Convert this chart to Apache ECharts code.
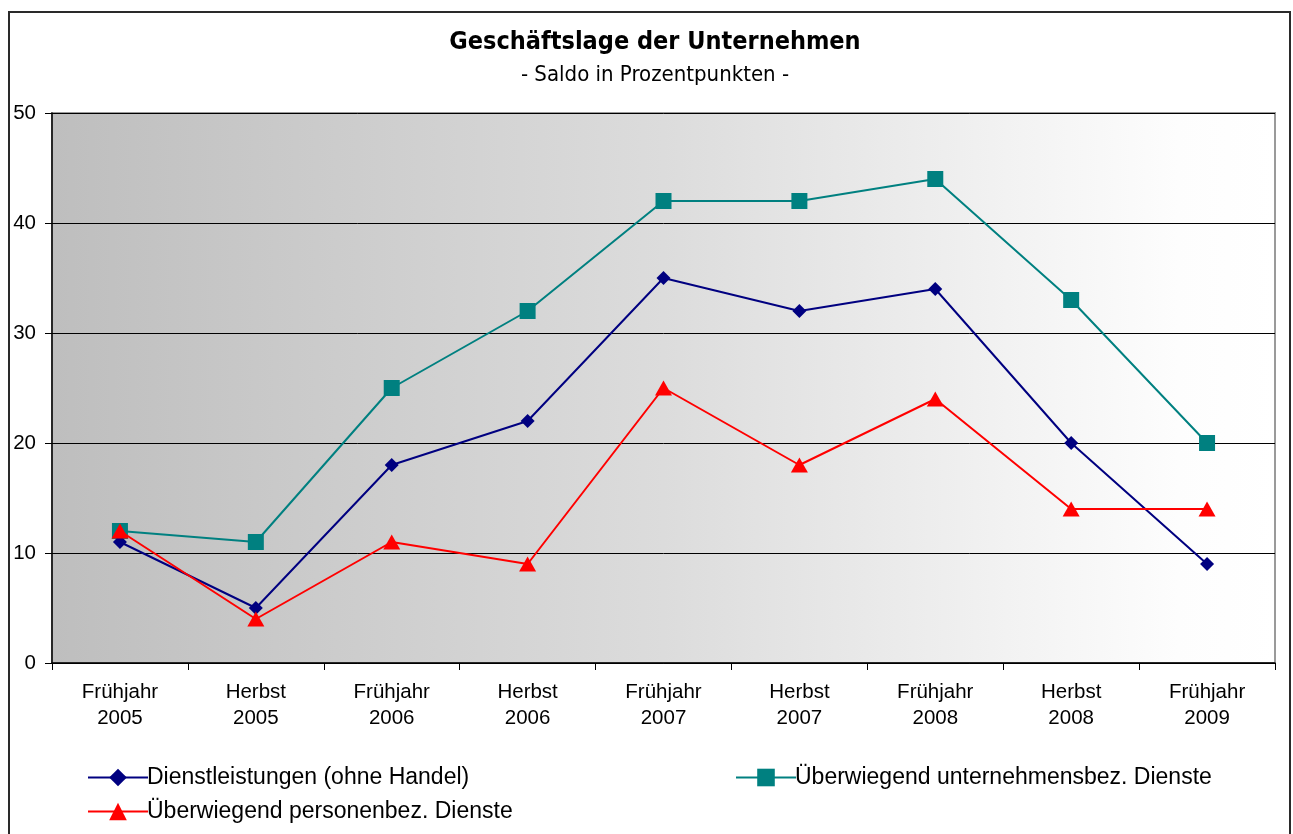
<!DOCTYPE html>
<html><head><meta charset="utf-8">
<script src="https://cdn.jsdelivr.net/npm/echarts@6/dist/echarts.min.js"></script>
<style>html,body{margin:0;padding:0;background:#fff}#c{width:1293px;height:834px}</style>
</head><body><div id="c"></div>
<script>
const categories = ['Frühjahr\n2005','Herbst\n2005','Frühjahr\n2006','Herbst\n2006','Frühjahr\n2007','Herbst\n2007','Frühjahr\n2008','Herbst\n2008','Frühjahr\n2009'];
const dienstleistungen = [11, 5, 18, 22, 35, 32, 34, 20, 9];
const unternehmensbez = [12, 11, 25, 32, 42, 42, 44, 33, 20];
const personenbez = [12, 4, 11, 9, 25, 18, 24, 14, 14];
const yTicks = [0, 10, 20, 30, 40, 50];
const seriesNames = ['Dienstleistungen (ohne Handel)', 'Überwiegend unternehmensbez. Dienste', 'Überwiegend personenbez. Dienste'];

const chart = echarts.init(document.getElementById('c'));
const F = 'Liberation Sans, Arial, sans-serif';
const legendBase = {
  orient: 'horizontal', itemWidth: 60, itemHeight: 22,
  textStyle: {fontFamily: F, fontSize: 23, color: '#000', padding: [0,0,0,-6]}
};
chart.setOption({
  animation: false,
  title: {
    text: 'Geschäftslage der Unternehmen',
    subtext: '- Saldo in Prozentpunkten -',
    left: 650, textAlign: 'center', top: 25, itemGap: 9,
    textStyle: {fontFamily: 'DejaVu Sans Condensed, DejaVu Sans', fontWeight: 'bold', fontSize: 25, color: '#000'},
    subtextStyle: {fontFamily: 'DejaVu Sans Condensed, DejaVu Sans', fontSize: 22, color: '#000'}
  },
  graphic: [{
    type: 'rect', shape: {x: 9, y: 12, width: 1281, height: 840},
    style: {fill: 'none', stroke: '#2a2a2a', lineWidth: 2}, silent: true
  }],
  legend: [
    Object.assign({}, legendBase, {data: [seriesNames[0]], left: 82, top: 761}),
    Object.assign({}, legendBase, {data: [seriesNames[2]], left: 82, top: 795}),
    Object.assign({}, legendBase, {data: [seriesNames[1]], left: 730, top: 761})
  ],
  grid: {
    left: 52, right: 18, top: 113, bottom: 171,
    show: true, borderColor: '#9a9a9a', borderWidth: 2,
    backgroundColor: new echarts.graphic.LinearGradient(0, 0, 1, 0, [
      {offset: 0, color: '#bebebe'}, {offset: 0.5, color: '#dcdcdc'}, {offset: 0.92, color: '#fdfdfd'}, {offset: 1, color: '#ffffff'}
    ])
  },
  xAxis: {
    type: 'category', data: categories, boundaryGap: true,
    axisLine: {lineStyle: {color: '#000', width: 1.5}},
    axisTick: {show: true, length: 7, lineStyle: {color: '#000'}},
    axisLabel: {fontFamily: F, fontSize: 20.5, color: '#000', lineHeight: 26, margin: 16}
  },
  yAxis: {
    type: 'value', min: 0, max: 50, interval: 10,
    axisLine: {show: true, lineStyle: {color: '#000', width: 1.5}},
    axisTick: {show: true, length: 7, lineStyle: {color: '#000'}},
    axisLabel: {fontFamily: F, fontSize: 20.5, color: '#000', margin: 16,
      formatter: v => yTicks.includes(v) ? String(v) : ''},
    splitLine: {show: true, lineStyle: {color: '#000', width: 1}}
  },
  series: [{
    name: seriesNames[0], type: 'line', data: dienstleistungen,
    symbol: 'diamond', symbolSize: 14,
    lineStyle: {color: '#000080', width: 2}, itemStyle: {color: '#000080'}, z: 3
  }, {
    name: seriesNames[1], type: 'line', data: unternehmensbez,
    symbol: 'rect', symbolSize: 16,
    lineStyle: {color: '#008080', width: 2}, itemStyle: {color: '#008080'}, z: 2
  }, {
    name: seriesNames[2], type: 'line', data: personenbez,
    symbol: 'triangle', symbolSize: [17, 15],
    lineStyle: {color: '#ff0000', width: 2}, itemStyle: {color: '#ff0000'}, z: 4
  }]
});
</script></body></html>
